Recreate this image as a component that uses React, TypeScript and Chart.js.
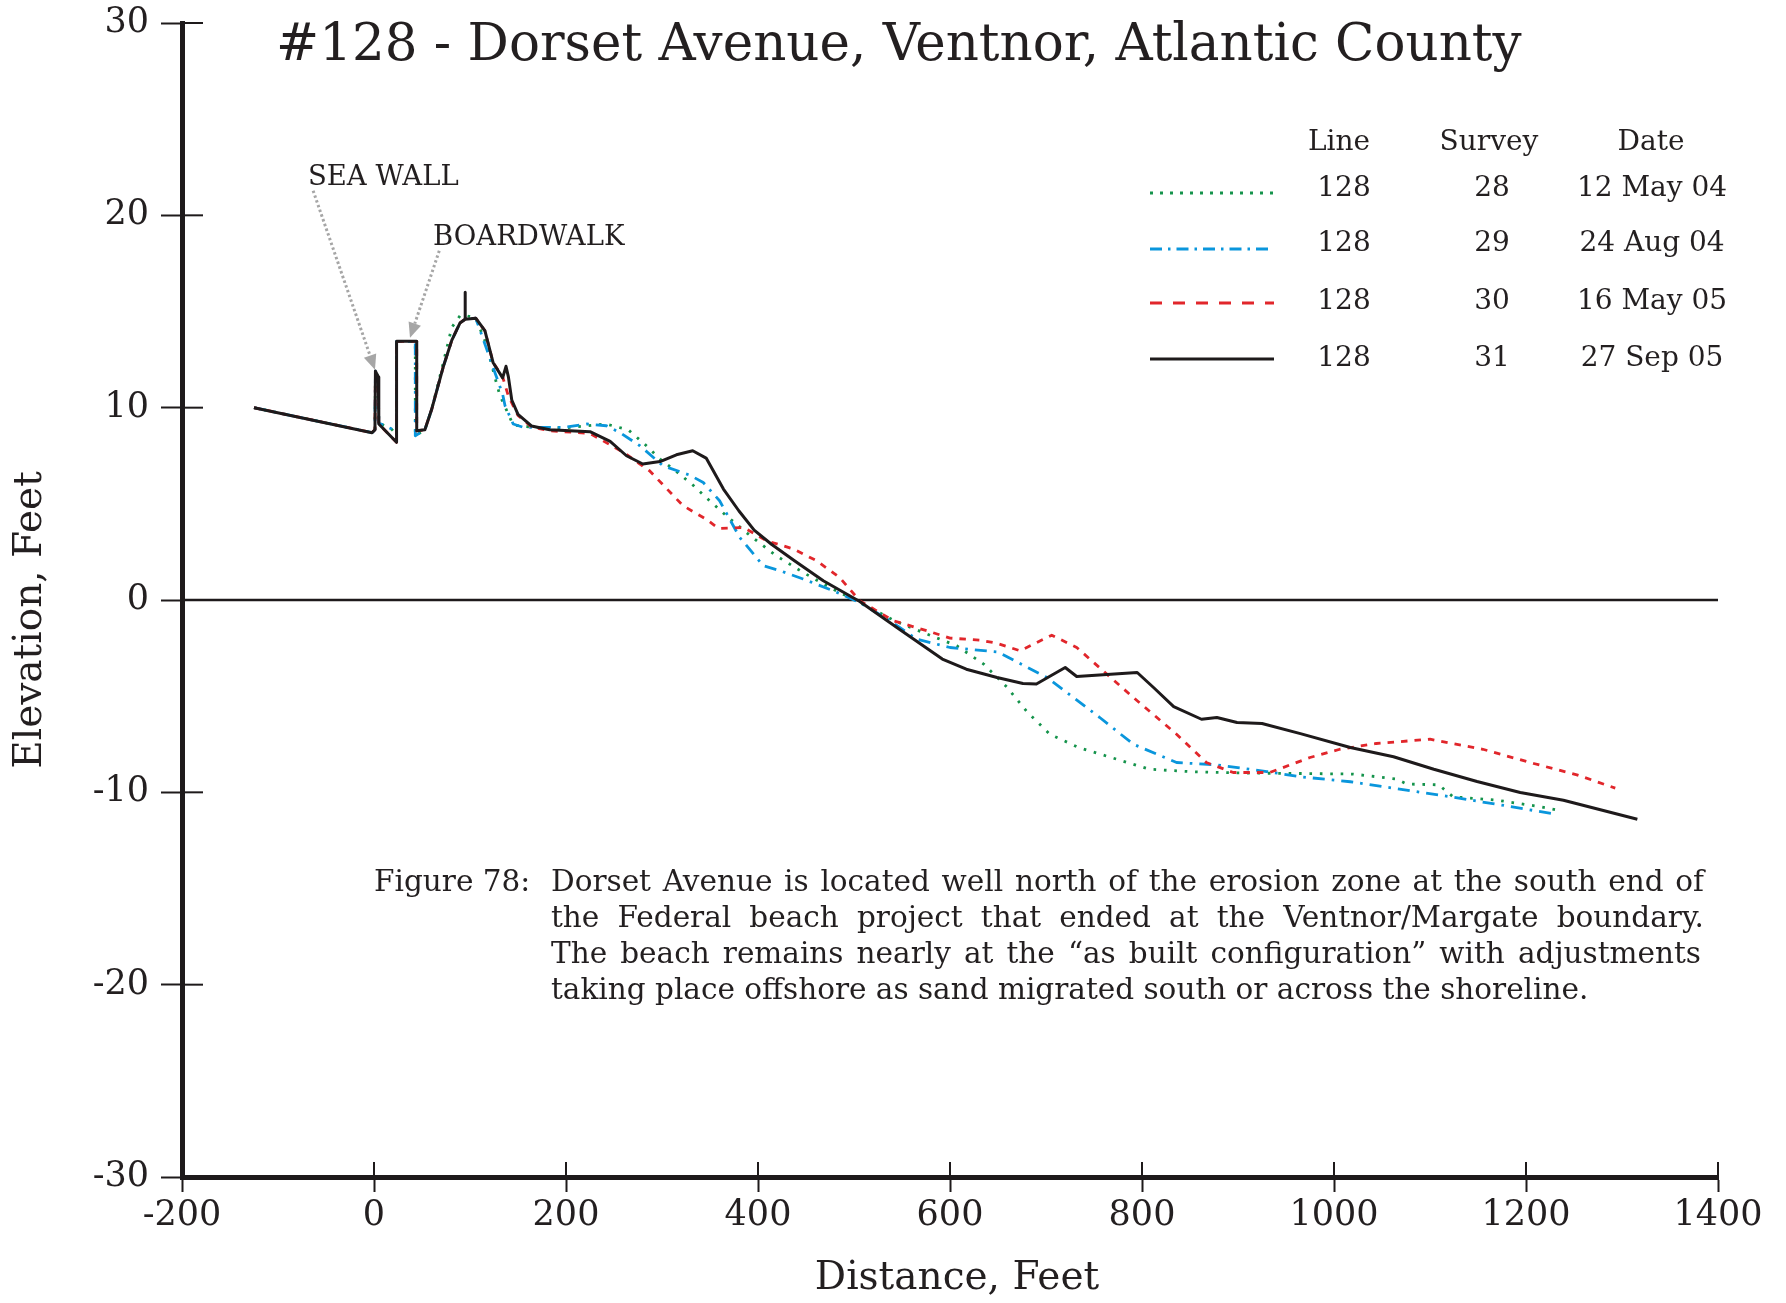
import React, { useEffect, useRef } from "react";
import { Chart, registerables } from "chart.js";

Chart.register(...registerables);

// ---------- DATA ----------
const xTickValues = [-200, 0, 200, 400, 600, 800, 1000, 1200, 1400];
const yTickValues = [-30, -20, -10, 0, 10, 20, 30];

// Survey 28 — 12 May 04 (distance ft, elevation ft)
const survey28: [number, number][] = [
  [-125, 10], [-2, 8.7], [1, 8.85], [1.5, 11.9], [4.5, 11.6], [5, 9.2], [18, 8.9], [23.5, 8.6],
  [23.5, 13.45], [43, 13.45], [43, 8.54], [53, 8.85], [60, 9.9], [72, 12.3], [81, 14.17],
  [89.6, 14.78], [95, 14.8], [106, 14.65], [117, 13.3], [127.8, 11.23], [131.3, 10.62],
  [145, 9.1], [166, 8.98], [200, 8.95], [242, 9.15], [265, 8.84], [282, 8.1], [298, 7.33],
  [315, 6.68], [333, 5.94], [349, 5.19], [367, 4.38], [392, 3.34], [419, 2.3], [447, 1.43],
  [478, 0.57], [506, -0.13], [544, -1.12], [576, -1.77], [607, -2.38], [635, -3.33],
  [659, -4.51], [680, -5.8], [704, -6.98], [734, -7.67], [777, -8.33], [808, -8.8],
  [853, -8.93], [909, -9.0], [965, -9.02], [1020, -9.05], [1065, -9.31], [1076, -9.57],
  [1109, -9.61], [1124, -10.23], [1170, -10.41], [1215, -10.75], [1236, -10.96],
];

// Survey 29 — 24 Aug 04
const survey29: [number, number][] = [
  [-125, 10], [-2, 8.7], [1, 8.85], [1.5, 11.9], [4.5, 11.6], [5, 9.2], [18, 8.9], [23.5, 8.6],
  [23.5, 13.45], [43, 13.45], [43, 8.54], [53, 8.85], [60, 9.9], [72, 12.1], [81, 13.5],
  [89.5, 14.4], [95, 14.6], [106, 14.65], [117, 13.1], [124, 12.1], [134, 10.7], [136.5, 10.1],
  [145, 9.15], [155.5, 8.98], [197, 8.97], [221.5, 9.15], [242, 9.06], [256, 8.71], [277, 8.02],
  [301, 6.98], [329, 6.49], [343, 6.11], [360, 5.16], [381, 3.25], [405.5, 1.78], [423, 1.52],
  [447, 1.09], [478.5, 0.48], [506, -0.13], [537.5, -1.08], [565, -2.03], [600, -2.47],
  [650, -2.7], [701, -4.03], [756, -6.11], [791, -7.5], [836, -8.45], [878, -8.57],
  [930, -8.92], [965, -9.19], [1017, -9.45], [1121, -10.23], [1173, -10.65], [1230, -11.13],
];

// Survey 30 — 16 May 05
const survey30: [number, number][] = [
  [-125, 10], [-2, 8.7], [1, 8.85], [1.5, 11.9], [4.5, 11.6], [5, 9.15], [23.5, 8.2],
  [23.5, 13.45], [44.5, 13.45], [44.5, 8.8], [53, 8.85], [60, 9.9], [72, 12.1], [81, 13.5],
  [89.5, 14.4], [95, 14.6], [106, 14.65], [115.5, 14.0], [124, 12.35], [134, 11.6], [140, 10.6],
  [150, 9.6], [164, 9.0], [183, 8.8], [225, 8.66], [260, 7.67], [287, 6.72], [322, 4.9],
  [346, 4.2], [359, 3.72], [385, 3.77], [409, 3.08], [437, 2.65], [461, 2.04], [485, 1.17],
  [506, -0.04], [541, -1.08], [576, -1.6], [600, -1.98], [631, -2.09], [649, -2.25],
  [673, -2.64], [706, -1.83], [732, -2.47], [791, -5.07], [836, -6.98], [867, -8.45],
  [895, -8.97], [933, -8.97], [975, -8.19], [1006, -7.76], [1044, -7.46], [1100, -7.24],
  [1155, -7.76], [1208, -8.5], [1253, -9.09], [1293, -9.78],
];

// Survey 31 — 27 Sep 05
const survey31: [number, number][] = [
  [-125, 10], [-2, 8.7], [1, 8.85], [1.5, 11.9], [4.5, 11.6], [5, 9.15], [23.5, 8.2],
  [23.5, 13.45], [44.5, 13.45], [44.5, 8.8], [53, 8.85], [60, 9.9], [72, 12.1], [81, 13.5],
  [89.5, 14.4], [95, 14.6], [95, 16.0], [95, 14.6], [106, 14.65], [115.5, 14.0], [124, 12.35],
  [134, 11.55], [137.5, 12.15], [140, 11.6], [143.5, 10.4], [150, 9.65], [164, 9.05],
  [183, 8.85], [225, 8.75], [246, 8.25], [263, 7.5], [280, 7.07], [298, 7.2], [315, 7.55],
  [332, 7.76], [346, 7.38], [364, 5.77], [380, 4.64], [396, 3.63], [414, 2.9], [438, 2.04],
  [468, 1.0], [506, -0.08], [548, -1.55], [592, -3.07], [617, -3.6], [649, -4.03],
  [676, -4.34], [690, -4.37], [720, -3.51], [732, -3.98], [795, -3.77], [812, -4.55],
  [833, -5.54], [862, -6.2], [878, -6.11], [899, -6.37], [925, -6.42], [965, -6.95],
  [1017, -7.67], [1062, -8.15], [1104, -8.8], [1149, -9.44], [1194, -10.01], [1239, -10.41],
  [1316, -11.4],
];

const legendLineNos = ["128", "128", "128", "128"];
const legendSurveys = ["28", "29", "30", "31"];
const legendDates = ["12 May 04", "24 Aug 04", "16 May 05", "27 Sep 05"];

const titleText = "#128 - Dorset Avenue, Ventnor, Atlantic County";
const xAxisTitle = "Distance, Feet";
const yAxisTitle = "Elevation, Feet";
const captionLabel = "Figure 78:";
const captionLines = [
  "Dorset Avenue is located well north of the erosion zone at the south end of",
  "the Federal beach project that ended at the Ventnor/Margate boundary.",
  "The beach remains nearly at the \u201Cas built configuration\u201D with adjustments",
  "taking place offshore as sand migrated south or across the shoreline.",
];

// annotation labels & arrows, in data coordinates
const seaWallLabel = { text: "SEA WALL", x: -68.8, y: 21.93 };
const seaWallArrow = { from: [-63.4, 21.28], to: [1.0, 11.97] };
const boardwalkLabel = { text: "BOARDWALK", x: 61.5, y: 18.83 };
const boardwalkArrow = { from: [68, 18.16], to: [37.5, 13.63] };

// ---------- STYLE ----------
const FONT = "'DejaVu Serif', serif";
const INK = "#231f20";
const GREEN = "#14934b";
const BLUE = "#0a96dc";
const RED = "#e1262b";
const BLACK = "#1e1a1b";

const styles = [
  { color: GREEN, dash: [2.6, 7.8], legendDash: [3, 7], width: 2.8 },
  { color: BLUE, dash: [12, 7, 2.6, 7], legendDash: [12, 6, 2.5, 6], width: 2.8 },
  { color: RED, dash: [6.5, 7], legendDash: [12, 11], width: 2.8 },
  { color: BLACK, dash: [], legendDash: [], width: 3 },
];

const toXY = (arr: [number, number][]) => arr.map(([x, y]) => ({ x, y }));

function drawJustified(ctx: CanvasRenderingContext2D, text: string, x: number, y: number, width: number) {
  const words = text.split(" ");
  const wordsW = words.reduce((s, w) => s + ctx.measureText(w).width, 0);
  const gap = (width - wordsW) / (words.length - 1);
  let cx = x;
  for (const w of words) {
    ctx.fillText(w, cx, y);
    cx += ctx.measureText(w).width + gap;
  }
}

function drawArrow(ctx: CanvasRenderingContext2D, x1: number, y1: number, x2: number, y2: number) {
  const ang = Math.atan2(y2 - y1, x2 - x1);
  const headLen = 15;
  const headW = 6.5;
  const bx = x2 - headLen * Math.cos(ang);
  const by = y2 - headLen * Math.sin(ang);
  ctx.save();
  ctx.strokeStyle = "#a6a6a6";
  ctx.fillStyle = "#a6a6a6";
  ctx.lineWidth = 3;
  ctx.setLineDash([2.5, 2.5]);
  ctx.beginPath();
  ctx.moveTo(x1, y1);
  ctx.lineTo(bx, by);
  ctx.stroke();
  ctx.setLineDash([]);
  ctx.beginPath();
  ctx.moveTo(x2, y2);
  ctx.lineTo(bx + headW * Math.sin(ang), by - headW * Math.cos(ang));
  ctx.lineTo(bx - headW * Math.sin(ang), by + headW * Math.cos(ang));
  ctx.closePath();
  ctx.fill();
  ctx.restore();
}

const decorPlugin = {
  id: "decor",
  beforeDatasetsDraw(chart: any) {
    const { ctx, chartArea, scales } = chart;
    const y0 = scales.y.getPixelForValue(0);
    ctx.save();
    ctx.strokeStyle = BLACK;
    ctx.lineWidth = 2.5;
    ctx.beginPath();
    ctx.moveTo(chartArea.left, y0);
    ctx.lineTo(chartArea.right, y0);
    ctx.stroke();
    // inner halves of the tick marks
    ctx.lineWidth = 2;
    for (const v of yTickValues) {
      const py = scales.y.getPixelForValue(v);
      ctx.beginPath();
      ctx.moveTo(chartArea.left, py);
      ctx.lineTo(chartArea.left + 21, py);
      ctx.stroke();
    }
    for (const v of xTickValues) {
      const px = scales.x.getPixelForValue(v);
      ctx.beginPath();
      ctx.moveTo(px, chartArea.bottom);
      ctx.lineTo(px, chartArea.bottom - 15);
      ctx.stroke();
    }
    ctx.restore();
  },
  afterDraw(chart: any) {
    const { ctx, chartArea, scales } = chart;
    const X = (v: number) => scales.x.getPixelForValue(v);
    const Y = (v: number) => scales.y.getPixelForValue(v);
    ctx.save();
    ctx.fillStyle = INK;

    // title
    ctx.font = `51.5px ${FONT}`;
    ctx.textAlign = "left";
    ctx.textBaseline = "alphabetic";
    ctx.fillText(titleText, 276, 60);

    // axis titles
    ctx.font = `39px ${FONT}`;
    ctx.textAlign = "center";
    ctx.textBaseline = "middle";
    ctx.fillText(xAxisTitle, (chartArea.left + chartArea.right) / 2 + 7, 1279);
    ctx.save();
    ctx.translate(31, 620);
    ctx.rotate(-Math.PI / 2);
    ctx.fillText(yAxisTitle, 0, 0);
    ctx.restore();

    // legend table
    ctx.font = `28px ${FONT}`;
    ctx.textAlign = "center";
    ctx.textBaseline = "middle";
    ctx.fillText("Line", 1339, 143);
    ctx.fillText("Survey", 1489, 143);
    ctx.fillText("Date", 1651, 143);
    const rowY = [189, 244, 302, 359];
    const lineY = [193, 249, 303, 359];
    for (let i = 0; i < 4; i++) {
      ctx.fillStyle = INK;
      ctx.fillText(legendLineNos[i], 1344, rowY[i]);
      ctx.fillText(legendSurveys[i], 1492, rowY[i]);
      ctx.fillText(legendDates[i], 1652, rowY[i]);
      const st = styles[i];
      ctx.save();
      ctx.strokeStyle = st.color;
      ctx.lineWidth = st.width;
      ctx.setLineDash(st.legendDash);
      ctx.beginPath();
      ctx.moveTo(1150, lineY[i]);
      ctx.lineTo(1274, lineY[i]);
      ctx.stroke();
      ctx.restore();
    }

    // annotations
    drawArrow(ctx, X(seaWallArrow.from[0]), Y(seaWallArrow.from[1]), X(seaWallArrow.to[0]), Y(seaWallArrow.to[1]));
    drawArrow(ctx, X(boardwalkArrow.from[0]), Y(boardwalkArrow.from[1]), X(boardwalkArrow.to[0]), Y(boardwalkArrow.to[1]));
    ctx.fillStyle = INK;
    ctx.font = `27.5px ${FONT}`;
    ctx.textAlign = "left";
    ctx.textBaseline = "middle";
    ctx.fillText(seaWallLabel.text, X(seaWallLabel.x), Y(seaWallLabel.y));
    ctx.fillText(boardwalkLabel.text, X(boardwalkLabel.x), Y(boardwalkLabel.y));

    // caption
    ctx.font = `29.5px ${FONT}`;
    ctx.textAlign = "left";
    ctx.textBaseline = "middle";
    const capY = [883, 919, 955, 991];
    ctx.fillText(captionLabel, 374, capY[0]);
    for (let i = 0; i < captionLines.length; i++) {
      if (i < 3) drawJustified(ctx, captionLines[i], 551, capY[i], i === 2 ? 1150 : 1153);
      else ctx.fillText(captionLines[i], 551, capY[i]);
    }
    ctx.restore();
  },
};

export default function App() {
  const ref = useRef<HTMLCanvasElement | null>(null);
  useEffect(() => {
    if (!ref.current) return;
    const series = [survey28, survey29, survey30, survey31];
    const labels = legendSurveys;
    const chart = new Chart(ref.current, {
      type: "line",
      data: {
        datasets: series.map((s, i) => ({
          label: labels[i],
          data: toXY(s),
          borderColor: styles[i].color,
          borderWidth: styles[i].width,
          borderDash: styles[i].dash,
          borderCapStyle: "butt",
          borderJoinStyle: "round",
          pointRadius: 0,
          tension: 0,
          fill: false,
          order: 3 - i,
        })),
      },
      options: {
        responsive: false,
        animation: false,
        parsing: true,
        layout: { padding: { top: 23, right: 68, left: 0, bottom: 0 } },
        plugins: { legend: { display: false }, tooltip: { enabled: false }, title: { display: false } },
        scales: {
          x: {
            type: "linear",
            min: -200,
            max: 1400,
            afterBuildTicks: (scale: any) => {
              scale.ticks = xTickValues.map((v) => ({ value: v }));
            },
            afterFit: (scale: any) => {
              scale.height = 126;
              scale.paddingLeft = 0;
              scale.paddingRight = 0;
            },
            border: { display: true, color: BLACK, width: 5 },
            grid: { display: true, drawOnChartArea: false, drawTicks: true, tickLength: 15, tickWidth: 2, tickColor: BLACK },
            ticks: {
              color: INK,
              font: { family: FONT, size: 35 },
              padding: 3,
              maxRotation: 0,
              autoSkip: false,
              callback: (v: any) => String(v),
            },
          },
          y: {
            type: "linear",
            min: -30,
            max: 30,
            afterBuildTicks: (scale: any) => {
              scale.ticks = yTickValues.map((v) => ({ value: v }));
            },
            afterFit: (scale: any) => {
              scale.width = 182;
              scale.paddingTop = 0;
              scale.paddingBottom = 0;
            },
            border: { display: true, color: BLACK, width: 5 },
            grid: { display: true, drawOnChartArea: false, drawTicks: true, tickLength: 21, tickWidth: 2, tickColor: BLACK },
            ticks: { color: INK, font: { family: FONT, size: 35 }, padding: 12, autoSkip: false, callback: (v: any) => String(v) },
          },
        },
      },
      plugins: [decorPlugin],
    } as any);
    return () => chart.destroy();
  }, []);
  return (
    <div style={{ position: "absolute", left: 0, top: 0, width: 1786, height: 1303, background: "#fff" }}>
      <canvas ref={ref} width={1786} height={1303} style={{ display: "block", width: 1786, height: 1303 }} />
    </div>
  );
}
